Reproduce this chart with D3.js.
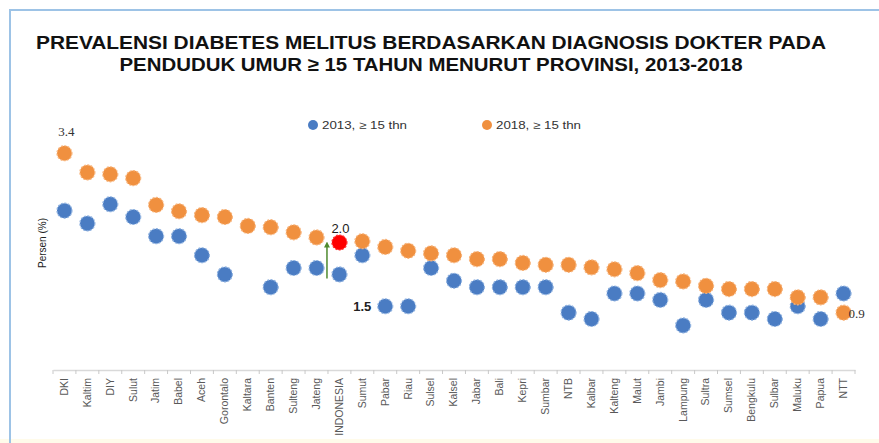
<!DOCTYPE html>
<html>
<head>
<meta charset="utf-8">
<script src="https://cdn.jsdelivr.net/npm/d3@7"></script>
<style>
	body { margin: 0; background: #fff; }
	svg { display: block; font-family: "Liberation Sans", Arial, sans-serif; }
</style>
</head>
<body>
<div id="chart"></div>
<script>
// categories (provinces, sorted by 2018 value)
var provinsi = ["DKI","Kaltim","DIY","Sulut","Jatim","Babel","Aceh","Gorontalo","Kaltara","Banten",
	"Sulteng","Jateng","INDONESIA","Sumut","Pabar","Riau","Sulsel","Kalsel","Jabar","Bali",
	"Kepri","Sumbar","NTB","Kalbar","Kalteng","Malut","Jambi","Lampung","Sultra","Sumsel",
	"Bengkulu","Sulbar","Maluku","Papua","NTT"];

// 2013, >= 15 thn (Kaltara had no data)
var nilai2013 = [2.5,2.3,2.6,2.4,2.1,2.1,1.8,1.5,null,1.3,
	1.6,1.6,1.5,1.8,1.0,1.0,1.6,1.4,1.3,1.3,
	1.3,1.3,0.9,0.8,1.2,1.2,1.1,0.7,1.1,0.9,
	0.9,0.8,1.0,0.8,1.2];

// 2018, >= 15 thn
var nilai2018 = [3.4,3.1,3.07,3.01,2.59,2.49,2.43,2.4,2.26,2.24,
	2.16,2.08,2.0,2.02,1.93,1.87,1.83,1.8,1.74,1.74,
	1.68,1.65,1.65,1.61,1.58,1.52,1.41,1.39,1.32,1.27,
	1.27,1.27,1.14,1.14,0.9];

var seriesNames = ["2013, \u2265 15 thn", "2018, \u2265 15 thn"];

var W = 879, H = 443;
var blue = "#4a7cc3", orange = "#f0903f";

var svg = d3.select("#chart").append("svg")
	.attr("width", W)
	.attr("height", H);

// bande jaune pale en bas
svg.append("rect")
	.attr("x", 0).attr("y", H - 4)
	.attr("width", W).attr("height", 4)
	.attr("fill", "#fffbea");

// cadre bleu clair
svg.append("path")
	.attr("d", "M10," + (H + 5) + " L10,10 L" + (W + 5) + ",10")
	.attr("fill", "none")
	.attr("stroke", "#9dc3e6")
	.attr("stroke-width", 2);

// TITRE
var title = ["PREVALENSI DIABETES MELITUS BERDASARKAN DIAGNOSIS DOKTER PADA",
	"PENDUDUK UMUR \u2265 15 TAHUN MENURUT PROVINSI, 2013-2018"];
var titleLen = [790, 623];
svg.selectAll("text.title")
	.data(title)
	.enter()
	.append("text")
		.attr("class", "title")
		.attr("x", 431)
		.attr("y", function(d, i) { return 49 + i * 22; })
		.attr("text-anchor", "middle")
		.attr("font-size", 19)
		.attr("font-weight", "bold")
		.attr("fill", "#111")
		.attr("textLength", function(d, i) { return titleLen[i]; })
		.attr("lengthAdjust", "spacingAndGlyphs")
		.text(function(d) { return d; });

// SCALES
var x = d3.scaleBand().domain(provinsi).range([53, 855]);
var y = d3.scaleLinear().domain([0, 4]).range([370, 115]);
var cx = function(d) { return x(d) + x.bandwidth() / 2; };

// axe X
var xAxis = d3.axisBottom(x).tickSize(0).tickPadding(6);
var gx = svg.append("g")
	.attr("transform", "translate(0," + y(0) + ")")
	.call(xAxis);
gx.select(".domain").attr("stroke", "#d9d9d9").attr("stroke-width", 1.5);
gx.selectAll("text")
	.attr("transform", "rotate(-90)")
	.attr("x", -8)
	.attr("y", 0)
	.attr("dy", "0.32em")
	.attr("text-anchor", "end")
	.attr("font-size", 10.5)
	.attr("font-family", "'Liberation Sans', Arial, sans-serif")
	.attr("fill", "#595959");

// petits ticks entre categories
gx.selectAll("line.sep")
	.data(provinsi.concat(["_end"]))
	.enter()
	.append("line")
		.attr("class", "sep")
		.attr("x1", function(d, i) { return x.range()[0] + i * x.step(); })
		.attr("x2", function(d, i) { return x.range()[0] + i * x.step(); })
		.attr("y1", 0)
		.attr("y2", 4)
		.attr("stroke", "#c8c8c8");

// label Y
svg.append("text")
	.attr("transform", "translate(46,243) rotate(-90)")
	.attr("text-anchor", "middle")
	.attr("font-size", 10)
	.attr("fill", "#222")
	.text("Persen (%)");

// LEGENDE
var legX = [313, 487];
var leg = svg.selectAll("g.leg")
	.data(seriesNames)
	.enter()
	.append("g")
		.attr("class", "leg")
		.attr("transform", function(d, i) { return "translate(" + legX[i] + ",125)"; });
leg.append("circle")
	.attr("r", 5)
	.attr("fill", function(d, i) { return i ? orange : blue; });
leg.append("text")
	.attr("x", 9)
	.attr("y", 4)
	.attr("font-size", 11)
	.attr("fill", "#333")
	.attr("textLength", 85)
	.attr("lengthAdjust", "spacingAndGlyphs")
	.text(function(d) { return d; });

// POINTS 2013
svg.append("g").selectAll("circle")
	.data(provinsi.filter(function(p, i) { return nilai2013[i] != null; }))
	.enter()
	.append("circle")
		.attr("cx", cx)
		.attr("cy", function(d) { return y(nilai2013[provinsi.indexOf(d)]); })
		.attr("r", 7.5)
		.attr("fill", blue)
		.attr("stroke", "#8fb2e0")
		.attr("stroke-width", 1.2)
		.attr("stroke-dasharray", "2,1.5");

// POINTS 2018
svg.append("g").selectAll("circle")
	.data(provinsi)
	.enter()
	.append("circle")
		.attr("cx", cx)
		.attr("cy", function(d, i) { return y(nilai2018[i]); })
		.attr("r", 7.5)
		.attr("fill", function(d) { return d == "INDONESIA" ? "#ff0000" : orange; })
		.attr("stroke", function(d) { return d == "INDONESIA" ? "#ff3030" : "#f7b47c"; })
		.attr("stroke-width", 1.2)
		.attr("stroke-dasharray", "2,1.5");

// fleche verte sur INDONESIA
var iIndo = provinsi.indexOf("INDONESIA");
svg.append("defs").append("marker")
	.attr("id", "head")
	.attr("viewBox", "0 0 10 10")
	.attr("refX", 5).attr("refY", 5)
	.attr("markerWidth", 4).attr("markerHeight", 4)
	.attr("orient", "auto")
	.append("path")
		.attr("d", "M0,0 L10,5 L0,10 z")
		.attr("fill", "#4e8a2e");
svg.append("line")
	.attr("x1", x("INDONESIA") - 1)
	.attr("x2", x("INDONESIA") - 1)
	.attr("y1", y(nilai2013[iIndo]) + 4)
	.attr("y2", y(nilai2018[iIndo]) + 2)
	.attr("stroke", "#4e8a2e")
	.attr("stroke-width", 1.5)
	.attr("marker-end", "url(#head)");

// ANNOTATIONS
svg.append("text")
	.attr("x", cx("DKI") + 2).attr("y", y(nilai2018[0]) - 17)
	.attr("text-anchor", "middle")
	.attr("font-size", 13)
	.attr("font-family", "'Liberation Serif', serif")
	.attr("fill", "#333")
	.text("3.4");
svg.append("text")
	.attr("x", cx("INDONESIA") + 1).attr("y", y(nilai2018[iIndo]) - 10)
	.attr("text-anchor", "middle")
	.attr("font-size", 13)
	.attr("fill", "#222")
	.text("2.0");
svg.append("text")
	.attr("x", cx("Pabar") - 14).attr("y", y(nilai2013[provinsi.indexOf("Pabar")]) + 5)
	.attr("text-anchor", "end")
	.attr("font-size", 13)
	.attr("font-weight", "bold")
	.attr("fill", "#222")
	.text("1.5");
svg.append("text")
	.attr("x", cx("NTT") + 5).attr("y", y(nilai2018[provinsi.length - 1]) + 5)
	.attr("font-size", 13)
	.attr("font-family", "'Liberation Serif', serif")
	.attr("fill", "#333")
	.text("0.9");
</script>
</body>
</html>
